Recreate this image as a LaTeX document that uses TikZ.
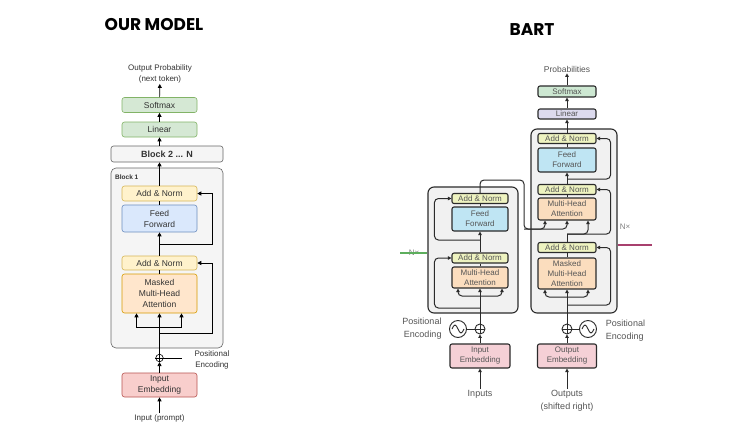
\documentclass[tikz,border=0pt]{standalone}
\usepackage{fontspec}
\setmainfont{Liberation Sans}
\newfontfamily\titlefont{Poppins}
\usepackage{tikz}
\usetikzlibrary{arrows.meta}

% draw.io colours (our model)
\definecolor{lgreen}{HTML}{D5E8D4}\definecolor{lgreend}{HTML}{82B366}
\definecolor{lyellow}{HTML}{FFF2CC}\definecolor{lyellowd}{HTML}{D6B656}
\definecolor{lblue}{HTML}{DAE8FC}\definecolor{lblued}{HTML}{6C8EBF}
\definecolor{lorange}{HTML}{FFE6CC}\definecolor{lorangd}{HTML}{D79B00}
\definecolor{lred}{HTML}{F8CECC}\definecolor{lredd}{HTML}{B85450}
\definecolor{lgray}{HTML}{F5F5F5}\definecolor{lgrayd}{HTML}{666666}
\definecolor{ltext}{HTML}{333333}
% transformer colours (BART)
\definecolor{bnorm}{HTML}{EEF3C0}
\definecolor{bff}{HTML}{BFE5F3}
\definecolor{battn}{HTML}{FBDDBE}
\definecolor{bemb}{HTML}{F5D0D6}
\definecolor{blin}{HTML}{DCDAEE}
\definecolor{bsoft}{HTML}{CDE8D2}
\definecolor{bcont}{HTML}{F1F1F1}
\definecolor{bdark}{HTML}{2B2B2B}
\definecolor{btext}{HTML}{555555}
\definecolor{nxgreen}{HTML}{5DAE5D}
\definecolor{nxred}{HTML}{A8406E}

\tikzset{
  title/.style={font=\titlefont\bfseries\fontsize{17}{20}\selectfont},
  lbox/.style={draw, rounded corners=2.5pt, inner sep=0pt, minimum width=75pt, line width=0.6pt,
    align=center, text=ltext, font=\fontsize{8.5}{11}\selectfont},
  ltxt/.style={inner sep=1pt, align=center, text=ltext, font=\fontsize{8}{11}\selectfont},
  larr/.style={-{Triangle[length=4pt,width=4pt]}, line width=0.7pt},
  lline/.style={line width=0.7pt},
  bbox/.style={draw=bdark, rounded corners=2pt, inner sep=0pt, minimum width=58pt, line width=1.1pt,
    align=center, text=btext, font=\fontsize{8}{10}\selectfont},
  btxt/.style={inner sep=1pt, text=btext, font=\fontsize{9}{13}\selectfont},
  barr/.style={-{Triangle[length=3.5pt,width=3.5pt]}, line width=1pt, draw=bdark, rounded corners=4pt},
  bcon/.style={line width=1pt, draw=bdark, rounded corners=4pt},
  bplus/.style={circle, draw=bdark, line width=0.9pt, minimum size=10pt, inner sep=0pt, fill=white},
  bwave/.style={circle, draw=bdark, line width=0.9pt, minimum size=17pt, inner sep=0pt, fill=white},
  nxlbl/.style={inner sep=1pt, text=gray, font=\fontsize{8}{9}\selectfont}
}

\begin{document}
\begin{tikzpicture}[x=1pt, y=-1pt]
\useasboundingbox[fill=white] (0,0) rectangle (732,445);

% Titles
\node[title] (ttlours) at (154,25) {OUR MODEL};
\node[title] (ttlbart) at (532,30) {BART};

% ---------------- Our model ----------------
\node[lbox, fill=lgray, draw=lgrayd, minimum width=112pt, minimum height=180pt, rounded corners=5pt] (blk1) at (167,258) {};
\node[anchor=west, inner sep=0pt, text=ltext, font=\bfseries\fontsize{6.5}{7}\selectfont] (blk1lbl) at (115,177) {Block 1};
\node[lbox, fill=lgreen, draw=lgreend, minimum height=15pt] (lsoft) at (159.5,105) {Softmax};
\node[lbox, fill=lgreen, draw=lgreend, minimum height=15pt] (llin) at (159.5,129.5) {Linear};
\node[lbox, fill=lgray, draw=lgrayd, minimum width=112pt, minimum height=16pt, font=\bfseries\fontsize{9}{10}\selectfont] (lblkn) at (167,154) {Block 2 ... N};
\node[lbox, fill=lyellow, draw=lyellowd, minimum height=15pt] (laddtop) at (159.5,193.5) {Add \& Norm};
\node[lbox, fill=lblue, draw=lblued, minimum height=27pt] (lff) at (159.5,218.5) {Feed\\Forward};
\node[lbox, fill=lyellow, draw=lyellowd, minimum height=14pt] (laddlow) at (159.5,263) {Add \& Norm};
\node[lbox, fill=lorange, draw=lorangd, minimum height=39pt] (lattn) at (159.5,293.5) {Masked\\Multi-Head\\Attention};
\node[lbox, fill=lred, draw=lredd, minimum height=24pt] (lemb) at (159.5,385) {Input\\Embedding};
\node[circle, draw, line width=0.6pt, minimum size=7.5pt, inner sep=0pt, fill=white] (lplus) at (159.5,358) {};
\draw[line width=0.5pt] (lplus.north) -- (lplus.south) (lplus.west) -- (lplus.east);

\node[ltxt] (lout) at (160,73.5) {Output Probability\\(next token)};
\node[ltxt] (lin) at (159.5,418) {Input (prompt)};
\node[ltxt] (lpos) at (212,359.5) {Positional\\Encoding};
\coordinate (lposend) at (182,358);
\coordinate (lbr) at (159.5,327);
\coordinate (lres1) at (159.5,333);
\coordinate (lres2) at (159.5,244);

% connectors
\draw[larr] (lin) -- (lemb);
\draw[larr] (lemb) -- (lplus);
\draw[lline] (lplus) -- (lposend);
\draw[larr] (lplus) -- (lattn);
\draw[larr] (lbr) -| ([xshift=-23pt]lattn.south);
\draw[larr] (lbr) -| ([xshift=22pt]lattn.south);
\draw[lline] (lattn) -- (laddlow);
\draw[larr] (lres1) -| ([xshift=15pt]laddlow.east) -- (laddlow.east);
\draw[larr] (laddlow) -- (lff);
\draw[larr] (lres2) -| ([xshift=15pt]laddtop.east) -- (laddtop.east);
\draw[lline] (lff) -- (laddtop);
\draw[larr] (laddtop.north) -- (laddtop.north |- lblkn.south);
\draw[larr] (llin.south |- lblkn.north) -- (llin.south);
\draw[larr] (llin) -- (lsoft);
\draw[larr] (lsoft) -- (lout);

% ---------------- BART ----------------
\node[bbox, fill=bcont, minimum width=90pt, minimum height=126pt, rounded corners=6pt] (ebox) at (473,250) {};
\node[bbox, fill=bcont, minimum width=86pt, minimum height=184pt, rounded corners=6pt] (dbox) at (574,221) {};

% encoder
\node[bbox, fill=bnorm, minimum width=56pt, minimum height=10pt] (eadd2) at (480,198.5) {Add \& Norm};
\node[bbox, fill=bff, minimum width=56pt, minimum height=24pt] (eff) at (480,219) {Feed\\Forward};
\node[bbox, fill=bnorm, minimum width=56pt, minimum height=10pt] (eadd1) at (480,258) {Add \& Norm};
\node[bbox, fill=battn, minimum width=56pt, minimum height=21pt] (eattn) at (480,277.5) {Multi-Head\\Attention};
\node[bplus] (eplus) at (480,329) {};
\node[bwave] (ewave) at (458,329) {};
\node[bbox, fill=bemb, minimum width=60pt, minimum height=24pt] (eemb) at (480,356) {Input\\Embedding};
\node[btxt] (einp) at (480,394) {Inputs};
\node[btxt, align=right] (epos) at (422,328.5) {Positional\\Encoding};
\node[nxlbl] (enx) at (414,253) {N×};
\coordinate (enxl) at (400,253);
\draw[nxgreen, line width=1.2pt] (enxl) -- (enxl -| ebox.west);

% decoder
\node[bbox, fill=bsoft, minimum height=11pt] (dsoft) at (567,91.5) {Softmax};
\node[bbox, fill=blin, minimum height=10pt] (dlin) at (567,114) {Linear};
\node[bbox, fill=bnorm, minimum height=10pt] (dadd3) at (567,138.5) {Add \& Norm};
\node[bbox, fill=bff, minimum height=24pt] (dff) at (567,160) {Feed\\Forward};
\node[bbox, fill=bnorm, minimum height=10pt] (dadd2) at (567,189.5) {Add \& Norm};
\node[bbox, fill=battn, minimum height=22pt] (dattn) at (567,209) {Multi-Head\\Attention};
\node[bbox, fill=bnorm, minimum height=10pt] (dadd1) at (567,247.5) {Add \& Norm};
\node[bbox, fill=battn, minimum height=31pt] (dmattn) at (567,273.5) {Masked\\Multi-Head\\Attention};
\node[bplus] (dplus) at (567,329) {};
\node[bwave] (dwave) at (588,329) {};
\node[bbox, fill=bemb, minimum width=59pt, minimum height=24pt] (demb) at (567,356) {Output\\Embedding};
\node[btxt, align=center] (dout) at (567,400.5) {Outputs\\(shifted right)};
\node[btxt, align=left] (dpos) at (625.5,330.5) {Positional\\Encoding};
\node[btxt, font=\fontsize{8.5}{10}\selectfont] (dprob) at (567,69) {Probabilities};
\node[nxlbl] (dnx) at (625,227) {N×};
\coordinate (dnxr) at (652,245);
\draw[nxred, line width=1.2pt] (dnxr -| dbox.east) -- (dnxr);

% plus signs and waves
\foreach \p in {eplus,dplus}
  \draw[bdark, line width=0.8pt] (\p.north) -- (\p.south) (\p.west) -- (\p.east);
\foreach \w in {ewave,dwave}
  \draw[bdark, line width=0.9pt] ([xshift=-6pt]\w.center) sin ++(3,-4) cos ++(3,4) sin ++(3,4) cos ++(3,-4);

% encoder connectors
\coordinate (ebr) at (480,296);
\coordinate (eres1) at (480,308);
\coordinate (eres2) at (480,240);
\coordinate (etop) at (480,180);
\coordinate (eout) at (524,229);
\draw[barr] (einp) -- (eemb);
\draw[barr] (eemb) -- (eplus);
\draw[bcon] (ewave) -- (eplus);
\draw[barr] (eplus) -- (eattn);
\draw[barr] (ebr) -| ([xshift=-22pt]eattn.south);
\draw[barr] (ebr) -| ([xshift=22pt]eattn.south);
\draw[bcon] (eattn) -- (eadd1);
\draw[barr] (eres1) -| ([xshift=-17pt]eadd1.west) -- (eadd1.west);
\draw[barr] (eadd1) -- (eff);
\draw[barr] (eres2) -| ([xshift=-17pt]eadd2.west) -- (eadd2.west);
\draw[bcon] (eff) -- (eadd2);
\draw[barr] (eadd2) -- (etop) -| (eout) -| ([xshift=-22pt]dattn.south);
\draw[barr] (eout) -| (dattn.south);

% decoder connectors
\coordinate (dbr) at (567,297);
\coordinate (dres1) at (567,305);
\coordinate (dq) at (567,234);
\coordinate (dres3) at (567,179);
\draw[barr] (dout) -- (demb);
\draw[barr] (demb) -- (dplus);
\draw[bcon] (dwave) -- (dplus);
\draw[barr] (dplus) -- (dmattn);
\draw[barr] (dbr) -| ([xshift=-22pt]dmattn.south);
\draw[barr] (dbr) -| ([xshift=21pt]dmattn.south);
\draw[bcon] (dmattn) -- (dadd1);
\draw[barr] (dres1) -| ([xshift=14pt]dadd1.east) -- (dadd1.east);
\draw[bcon] (dadd1) -- (dq);
\draw[barr] (dq) -| ([xshift=21pt]dattn.south);
\draw[barr] (dq) -| ([xshift=14pt]dadd2.east) -- (dadd2.east);
\draw[bcon] (dattn) -- (dadd2);
\draw[barr] (dadd2) -- (dff);
\draw[barr] (dres3) -| ([xshift=14pt]dadd3.east) -- (dadd3.east);
\draw[bcon] (dff) -- (dadd3);
\draw[barr] (dadd3) -- (dlin);
\draw[barr] (dlin) -- (dsoft);
\draw[barr] (dsoft) -- (dprob);
\end{tikzpicture}
\end{document}
